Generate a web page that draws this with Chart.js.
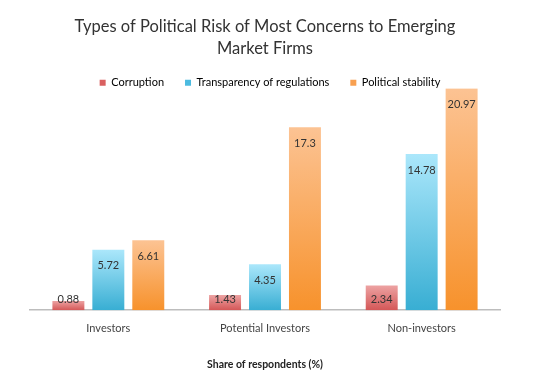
<!DOCTYPE html>
<html>
<head>
<meta charset="utf-8">
<script src="https://cdn.jsdelivr.net/npm/chart.js@4"></script>
<style>
  html, body { margin: 0; padding: 0; background: #fff; }
  #wrap { width: 540px; height: 375px; position: relative; }
</style>
</head>
<body>
<div id="wrap"><canvas id="chart"></canvas></div>
<script>
const categories = ['Investors', 'Potential Investors', 'Non-investors'];
const corruption = [0.88, 1.43, 2.34];
const transparency = [5.72, 4.35, 14.78];
const stability = [6.61, 17.3, 20.97];
const seriesNames = ['Corruption', 'Transparency of regulations', 'Political stability'];

// [top, bottom] colours of each bar gradient
const barColors = [
  ['#eda3a3', '#d45757'],
  ['#abe7fb', '#38aed3'],
  ['#fcc393', '#f7922c']
];
const legendColors = ['#d96060', '#4cbbe0', '#f8a050'];

function gradient(i) {
  return (ctx) => {
    const chart = ctx.chart;
    if (!chart.chartArea || ctx.parsed === undefined) return barColors[i][1];
    const y = chart.scales.y;
    const top = y.getPixelForValue(ctx.parsed.y);
    const base = y.getPixelForValue(0);
    const g = chart.ctx.createLinearGradient(0, top, 0, base);
    g.addColorStop(0, barColors[i][0]);
    g.addColorStop(1, barColors[i][1]);
    return g;
  };
}

// value labels inside the top of each bar
const valueLabels = {
  id: 'valueLabels',
  afterDatasetsDraw(chart) {
    const ctx = chart.ctx;
    ctx.save();
    ctx.font = '11px Lato';
    ctx.fillStyle = '#333';
    ctx.textAlign = 'center';
    ctx.textBaseline = 'middle';
    chart.data.datasets.forEach((ds, di) => {
      chart.getDatasetMeta(di).data.forEach((bar, i) => {
        const cy = Math.min(bar.y + 16, bar.base - 11);
        ctx.fillText(String(ds.data[i]), bar.x, cy);
      });
    });
    ctx.restore();
  }
};

// legend sits tight above the tallest bar, and a bit right of the plot centre
const legendTweak = {
  id: 'legendTweak',
  beforeInit(chart) {
    const fit = chart.legend.fit;
    chart.legend.fit = function () {
      fit.call(this);
      this.height = 28;
    };
  },
  afterLayout(chart) {
    chart.legend.left += 10;
    chart.legend.top -= 4;
  }
};

const datasets = [corruption, transparency, stability].map((d, i) => ({
  label: seriesNames[i],
  data: d,
  backgroundColor: gradient(i),
  borderWidth: 0,
  barPercentage: 0.8,
  categoryPercentage: 0.765
}));

new Chart(document.getElementById('chart'), {
  type: 'bar',
  data: { labels: categories, datasets: datasets },
  plugins: [valueLabels, legendTweak],
  options: {
    responsive: true,
    maintainAspectRatio: false,
    animation: false,
    layout: { padding: { left: 30, right: 40, top: 6, bottom: 2 } },
    plugins: {
      title: {
        display: true,
        text: ['Types of Political Risk of Most Concerns to Emerging', 'Market Firms'],
        color: '#333',
        font: { family: 'Lato', size: 16.5, weight: 'normal', lineHeight: 1.34 },
        padding: { top: 10, bottom: 0 }
      },
      legend: {
        position: 'top',
        labels: {
          color: '#333',
          font: { family: 'Lato', size: 11 },
          boxWidth: 6,
          boxHeight: 6,
          padding: 21,
          generateLabels: (chart) => seriesNames.map((n, i) => ({
            text: n,
            fillStyle: legendColors[i],
            strokeStyle: legendColors[i],
            lineWidth: 0,
            datasetIndex: i
          }))
        }
      },
      tooltip: { enabled: false }
    },
    scales: {
      x: {
        grid: { display: false },
        border: { color: '#bdbdbd', width: 1.5 },
        ticks: { color: '#444', font: { family: 'Lato', size: 11 }, padding: 4 },
        title: {
          display: true,
          text: 'Share of respondents (%)',
          color: '#222',
          font: { family: 'Lato', size: 10.5, weight: 'bold' },
          padding: { top: 19, bottom: 2 }
        }
      },
      y: {
        display: false,
        min: 0,
        max: 21
      }
    }
  }
});
</script>
</body>
</html>
